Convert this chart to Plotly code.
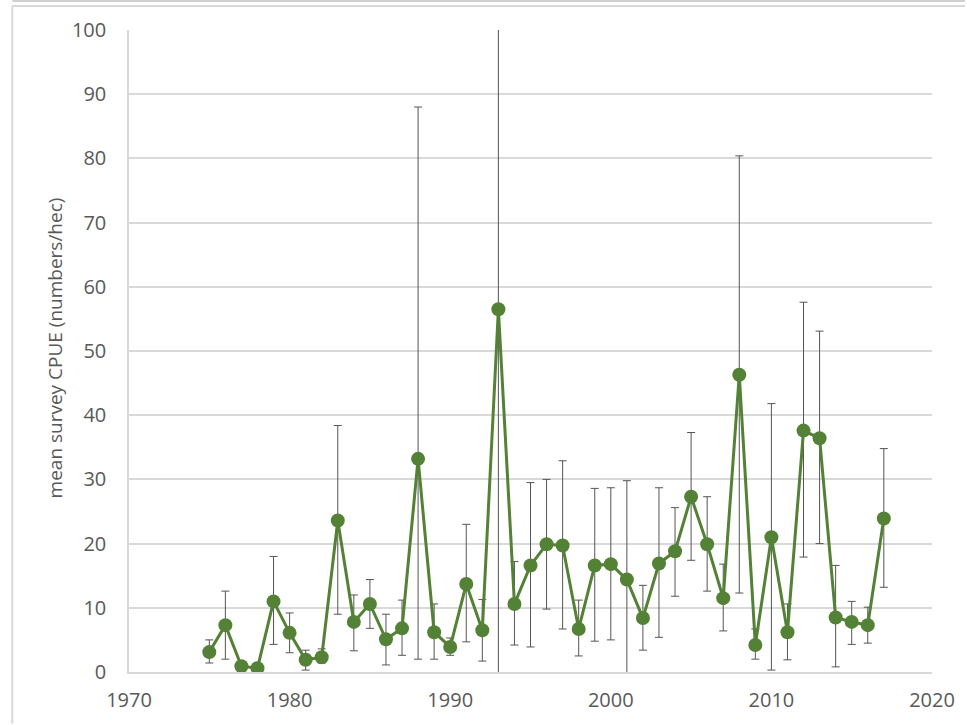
import plotly.graph_objects as go

# Mean survey CPUE by year with upper / lower interval bounds
years = list(range(1975, 2018))
cpue = [3.1, 7.3, 0.9, 0.6, 11.0, 6.1, 1.9, 2.3, 23.6, 7.8,
        10.6, 5.1, 6.8, 33.2, 6.2, 3.9, 13.7, 6.5, 56.5, 10.6,
        16.6, 19.9, 19.7, 6.7, 16.6, 16.8, 14.4, 8.4, 16.9, 18.8,
        27.3, 19.9, 11.5, 46.3, 4.2, 21.0, 6.2, 37.6, 36.4, 8.5,
        7.8, 7.3, 23.9]
upper = [5.0, 12.6, 0.9, 0.6, 18.0, 9.2, 3.4, 3.6, 38.4, 12.0,
         14.4, 9.0, 11.2, 88.0, 10.6, 5.3, 23.0, 11.3, 125.0, 17.2,
         29.5, 30.0, 32.9, 11.2, 28.6, 28.7, 29.8, 13.5, 28.7, 25.6,
         37.3, 27.3, 16.8, 80.4, 6.7, 41.8, 10.6, 57.6, 53.1, 16.6,
         11.0, 10.1, 34.8]
lower = [1.4, 2.0, 0.9, 0.6, 4.3, 3.0, 0.3, 1.4, 9.0, 3.3,
         6.8, 1.1, 2.6, 2.0, 2.0, 2.6, 4.7, 1.7, -5.0, 4.2,
         3.9, 9.8, 6.7, 2.5, 4.8, 5.0, -5.0, 3.4, 5.4, 11.8,
         17.4, 12.6, 6.4, 12.3, 2.0, 0.3, 1.9, 17.9, 20.0, 0.8,
         4.3, 4.5, 13.2]

x_ticks = [1970, 1980, 1990, 2000, 2010, 2020]
y_ticks = list(range(0, 101, 10))

err_plus = [u - v for u, v in zip(upper, cpue)]
err_minus = [v - l for v, l in zip(cpue, lower)]

GREEN = "#538135"
TEXT = "#595959"
GRID = "#d9d9d9"
FONT = "Open Sans, Liberation Sans, sans-serif"

fig = go.Figure()

# Error bars drawn first so the series sits on top of them
fig.add_trace(go.Scatter(
    x=years, y=cpue, mode="markers",
    marker=dict(size=1, opacity=0),
    error_y=dict(type="data", symmetric=False, array=err_plus,
                 arrayminus=err_minus, color="#555555",
                 thickness=1, width=4),
    hoverinfo="skip", showlegend=False,
))

fig.add_trace(go.Scatter(
    x=years, y=cpue, mode="lines+markers",
    line=dict(color=GREEN, width=3),
    marker=dict(color=GREEN, size=14),
    showlegend=False,
))

L, R, T, B = 129, 33, 30, 51.5
W, H = 967, 725
pw, ph = W - L - R, H - T - B


def px(xp):
    return (xp - L) / pw


def py(yp):
    return (H - B - yp) / ph


# Outer chart frame
fig.add_shape(type="line", xref="paper", yref="paper",
              x0=px(12), x1=px(967), y0=py(1), y1=py(1),
              line=dict(color="#d0d0d0", width=2))
fig.add_shape(type="line", xref="paper", yref="paper",
              x0=px(12), x1=px(967), y0=py(6), y1=py(6),
              line=dict(color=GRID, width=2))
fig.add_shape(type="line", xref="paper", yref="paper",
              x0=px(12), x1=px(12), y0=py(6), y1=py(725),
              line=dict(color=GRID, width=2))

fig.add_annotation(
    text="mean survey CPUE (numbers/hec)", textangle=-90,
    xref="paper", yref="paper", x=px(55), y=py(349),
    xanchor="center", yanchor="middle", showarrow=False,
    font=dict(family=FONT, size=19, color=TEXT),
)

fig.update_layout(
    width=W, height=H,
    margin=dict(l=L, r=R, t=T, b=B, pad=0),
    paper_bgcolor="white", plot_bgcolor="white",
    font=dict(family=FONT, color=TEXT),
)
fig.update_xaxes(
    range=[1970, 2020], tickvals=x_ticks, showgrid=False,
    showline=True, linecolor=GRID, linewidth=2, zeroline=False,
    ticks="", ticklabelstandoff=9,
    tickfont=dict(family=FONT, size=20, color=TEXT),
)
fig.update_yaxes(
    range=[0, 100], tickvals=y_ticks, showgrid=True, gridcolor=GRID,
    gridwidth=1.5, showline=True, linecolor=GRID, linewidth=1.5,
    zeroline=False, ticks="", ticklabelstandoff=17,
    tickfont=dict(family=FONT, size=20, color=TEXT),
)

fig.write_html("out.html")
